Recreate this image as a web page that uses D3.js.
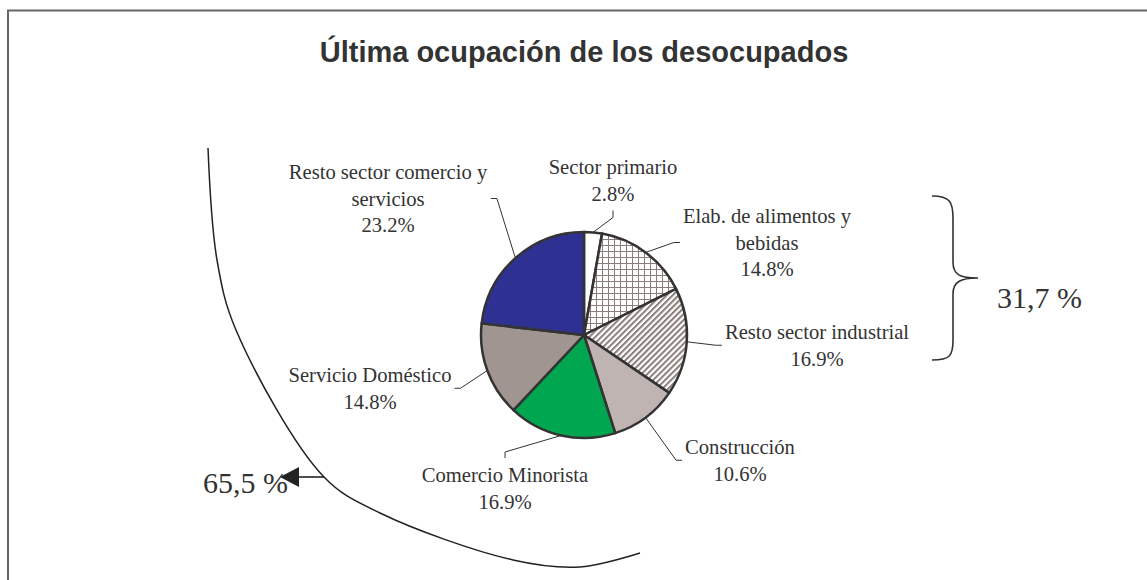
<!DOCTYPE html>
<html>
<head>
<meta charset="utf-8">
<script src="https://cdn.jsdelivr.net/npm/d3@7"></script>
<style>
  body { margin: 0; background: #fff; }
  svg { display: block; }
</style>
</head>
<body>
<svg id="chart" width="1147" height="580"></svg>
<script>
// data
const categories = ["Sector primario", "Elab. de alimentos y bebidas", "Resto sector industrial",
  "Construcción", "Comercio Minorista", "Servicio Doméstico", "Resto sector comercio y servicios"];
const values = [2.8, 14.8, 16.9, 10.6, 16.9, 14.8, 23.2];
const labelLines = [["Sector primario"], ["Elab. de alimentos y", "bebidas"], ["Resto sector industrial"],
  ["Construcción"], ["Comercio Minorista"], ["Servicio Doméstico"], ["Resto sector comercio y", "servicios"]];
const groupTotals = ["31,7 %", "65,5 %"];
const title = "Última ocupación de los desocupados";

// styles / layout
const fills = ["#ffffff", "url(#grid)", "url(#hatch)", "#bfb4b1", "#00a650", "#a19591", "#2e3192"];
const labelPos = [
  {cx: 613, y: 174, side: "bottom"},
  {cx: 767, y: 223, side: "left"},
  {cx: 817, y: 339, side: "left"},
  {cx: 740, y: 454, side: "left"},
  {cx: 505, y: 482, side: "top"},
  {cx: 370, y: 382, side: "right"},
  {cx: 388, y: 179, side: "right"}
];
const arcPts = [[208,148],[217,260],[236,330],[324,477],[380,513],[513,560],[580,567],[640,553]];

const svg = d3.select("#chart");
const W = 1147, H = 580;
const cx = 584, cy = 335, R = 103;

// patterns
const defs = svg.append("defs");
const grid = defs.append("pattern").attr("id", "grid").attr("patternUnits", "userSpaceOnUse")
  .attr("width", 6).attr("height", 6);
grid.append("rect").attr("width", 6).attr("height", 6).attr("fill", "#fff");
grid.append("path").attr("d", "M0.5,0V6M0,0.5H6").attr("stroke", "#8a7d7a").attr("stroke-width", 1);
const hatch = defs.append("pattern").attr("id", "hatch").attr("patternUnits", "userSpaceOnUse")
  .attr("width", 4.2).attr("height", 4.2).attr("patternTransform", "rotate(45)");
hatch.append("rect").attr("width", 4.2).attr("height", 4.2).attr("fill", "#fff");
hatch.append("rect").attr("width", 2).attr("height", 4.2).attr("fill", "#8a7d7a");

// frame
svg.append("rect").attr("x", 8).attr("y", 10.5).attr("width", W + 20).attr("height", H + 20)
  .attr("fill", "none").attr("stroke", "#666").attr("stroke-width", 2);

svg.append("text").attr("x", cx).attr("y", 62).attr("text-anchor", "middle")
  .attr("font-family", "Liberation Sans, Arial, sans-serif").attr("font-weight", "bold")
  .attr("font-size", 29).attr("fill", "#333").text(title);

// pie
const pie = d3.pie().sort(null).value(d => d);
const arcs = pie(values);
const arc = d3.arc().innerRadius(0).outerRadius(R);
const g = svg.append("g").attr("transform", `translate(${cx},${cy})`);
g.selectAll("path").data(arcs).join("path")
  .attr("d", arc)
  .attr("fill", (d, i) => fills[i])
  .attr("stroke", "#333").attr("stroke-width", 2.5).attr("stroke-linejoin", "round");

// labels + leader lines
const lh = 26.5;
arcs.forEach((d, i) => {
  const p = labelPos[i];
  const t = svg.append("text").attr("text-anchor", "middle")
    .attr("font-family", "Liberation Serif, Times New Roman, serif")
    .attr("font-size", 20.6).attr("fill", "#333");
  const lines = labelLines[i].concat([d3.format(".1f")(d.data) + "%"]);
  lines.forEach((s, k) => t.append("tspan").attr("x", p.cx).attr("y", p.y + k * lh).text(s));
  const bb = t.node().getBBox();
  let e, el;
  if (p.side === "left") { e = [bb.x - 3, bb.y + bb.height / 2]; el = [e[0] - 6, e[1]]; }
  if (p.side === "right") { e = [bb.x + bb.width + 3, bb.y + bb.height / 2]; el = [e[0] + 6, e[1]]; }
  if (p.side === "top") { e = [p.cx, bb.y - 6]; el = [p.cx, e[1] - 6]; }
  if (p.side === "bottom") { e = [p.cx, bb.y + bb.height + 6]; el = [p.cx, e[1] + 7]; }
  const mid = (d.startAngle + d.endAngle) / 2;
  const s0 = [cx + R * Math.sin(mid), cy - R * Math.cos(mid)];
  svg.append("path").attr("d", d3.line()([s0, el, e]))
    .attr("fill", "none").attr("stroke", "#333").attr("stroke-width", 1);
});

// brace for industry group
svg.append("path")
  .attr("d", "M932,196 C950,196 953,202 953,218 L953,262 C953,275 960,278 978,278 C960,278 953,282 953,294 L953,340 C953,356 950,360 932,360")
  .attr("fill", "none").attr("stroke", "#333").attr("stroke-width", 1.6);
svg.append("text").attr("x", 997).attr("y", 308)
  .attr("font-family", "Liberation Serif, Times New Roman, serif").attr("font-size", 30)
  .attr("fill", "#333").text(groupTotals[0]);

// big arc for services group
svg.append("path").attr("d", d3.line().curve(d3.curveCatmullRom.alpha(0.5))(arcPts))
  .attr("fill", "none").attr("stroke", "#222").attr("stroke-width", 1.5);
svg.append("text").attr("x", 203).attr("y", 493)
  .attr("font-family", "Liberation Serif, Times New Roman, serif").attr("font-size", 30)
  .attr("fill", "#333").text(groupTotals[1]);
svg.append("path").attr("d", "M324,477H296").attr("stroke", "#222").attr("stroke-width", 1.6);
svg.append("path").attr("d", "M280,477L299,467L299,487Z").attr("fill", "#222");
</script>
</body>
</html>
